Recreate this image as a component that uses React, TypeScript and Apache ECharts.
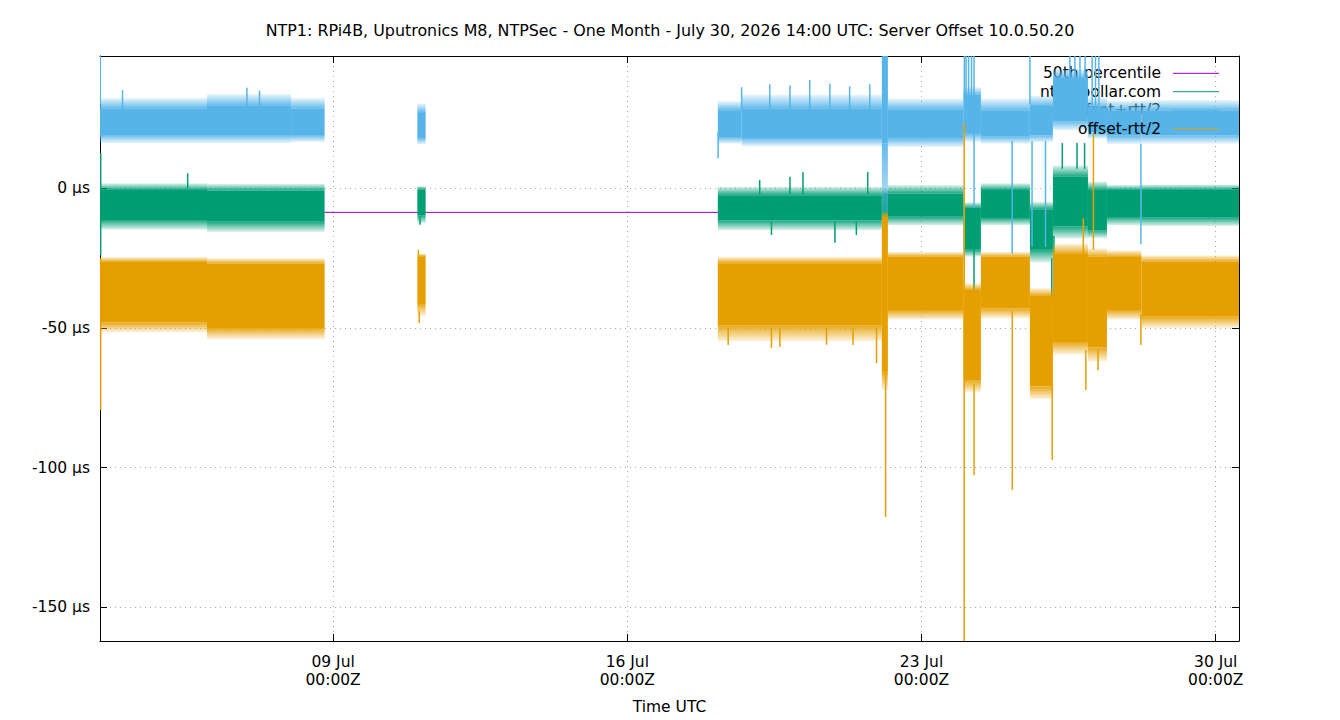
import { useEffect, useRef } from 'react';
import * as echarts from 'echarts';

// Chart text
const TITLE =
  'NTP1: RPi4B, Uputronics M8, NTPSec - One Month - July 30, 2026 14:00 UTC: Server Offset 10.0.50.20';
const X_NAME = 'Time UTC';
const seriesNames = ['50th percentile', 'ntp1.pollar.com', 'offset+rtt/2', 'offset-rtt/2'];
const seriesColors = ['#9400d3', '#009e73', '#56b4e9', '#e69f00'];

// Time is in fractional days of July 2026 (UTC); offsets in microseconds.
const X_MIN = 3.454;
const X_MAX = 30.554;
const Y_MIN = -162.1;
const Y_MAX = 47.4;
const dayTicks = [9, 16, 23, 30];
const offsetTicks = [-150, -100, -50, 0];

// 50th percentile of the server offset
const medianOffset = -8.6;

// Sample envelopes per stretch of time:
// [start, end, outer low, dense low, dense high, outer high]
const offsetBands = [
  [3.454, 6.0, -14.8, -11.3, -0.6, 1.8],
  [6.0, 8.798, -15.6, -12.0, -0.8, 1.6],
  [11.004, 11.202, -12.5, -9.6, -0.4, 0.8],
  [18.153, 22.057, -15.0, -11.5, -2.5, 0.6],
  [22.057, 22.2, -13.0, -11.0, -2.0, 0.0],
  [22.2, 24.0, -13.2, -10.2, -1.8, 1.2],
  [24.0, 24.413, -24.5, -22.0, -7.0, -5.0],
  [24.413, 25.579, -13.2, -10.6, -0.6, 1.8],
  [25.579, 26.127, -26.5, -22.0, -7.5, -4.8],
  [26.127, 26.96, -18.0, -13.7, 4.2, 8.2],
  [26.96, 27.412, -17.8, -15.0, -0.6, 2.4],
  [27.412, 28.233, -13.2, -10.3, -0.6, 1.2],
  [28.233, 30.554, -13.5, -10.5, -0.6, 1.4],
];

const plusRttBands = [
  [3.454, 6.0, 16.2, 19.1, 28.7, 32.4],
  [6.0, 8.0, 16.2, 19.1, 29.8, 33.8],
  [8.0, 8.798, 16.6, 19.1, 28.7, 32.4],
  [11.004, 11.202, 15.8, 18.0, 27.3, 30.4],
  [18.153, 18.724, 16.0, 18.4, 28.0, 31.2],
  [18.724, 22.057, 15.0, 18.0, 28.7, 33.6],
  [22.057, 22.2, -21.0, 16.0, 47.4, 47.4],
  [22.2, 24.0, 14.8, 17.8, 28.3, 32.2],
  [24.0, 24.413, 16.5, 19.5, 33.5, 36.2],
  [24.413, 25.579, 16.0, 18.5, 28.0, 32.2],
  [25.579, 26.127, 16.5, 19.0, 29.5, 33.2],
  [26.127, 26.96, 20.8, 24.0, 39.5, 42.8],
  [26.96, 27.412, 17.8, 20.0, 29.0, 32.4],
  [27.412, 28.233, 15.8, 18.8, 28.0, 31.4],
  [28.233, 30.554, 16.0, 19.0, 28.0, 31.6],
];

const minusRttBands = [
  [3.454, 6.0, -51.5, -48.0, -26.4, -24.6],
  [6.0, 8.798, -54.0, -50.0, -27.0, -25.0],
  [11.004, 11.202, -45.8, -41.4, -24.3, -23.4],
  [18.153, 22.057, -54.8, -49.0, -26.8, -24.5],
  [22.057, 22.2, -72.2, -65.7, -10.0, -8.4],
  [22.2, 24.0, -47.0, -43.6, -24.5, -22.8],
  [24.0, 24.413, -73.0, -68.7, -36.4, -34.0],
  [24.413, 25.579, -46.5, -43.0, -24.5, -22.8],
  [25.579, 26.127, -75.5, -71.0, -38.5, -35.8],
  [26.127, 26.96, -59.5, -55.0, -23.5, -19.8],
  [26.96, 27.412, -62.0, -57.0, -24.5, -21.5],
  [27.412, 28.233, -47.0, -43.6, -24.6, -22.2],
  [28.233, 30.554, -50.0, -46.0, -26.3, -24.0],
];

// Isolated excursions: [time, from, to]
const offsetSpikes = [
  [3.47, -24, 12.6],
  [5.54, 0, 5.4],
  [11.07, -10, -13],
  [19.15, -2, 3.0],
  [19.87, -2, 4.2],
  [20.18, -2, 5.9],
  [21.72, -2, 5.9],
  [19.43, -12, -16.7],
  [20.94, -12, -19.5],
  [21.45, -12, -16.7],
  [24.25, -20, -39.3],
  [26.1, -25, -42.4],
  [26.15, -17, -26.8],
  [26.35, 7, 16.2],
  [26.7, 7, 16.2],
  [26.88, 7, 16.2],
];

const plusRttSpikes = [
  [3.46, 30, 47.4],
  [3.99, 28, 35.2],
  [6.95, 29, 36.0],
  [7.25, 29, 35.0],
  [18.16, 20, 10.8],
  [18.72, 28, 36.2],
  [19.39, 28, 37.3],
  [19.87, 28, 36.8],
  [20.34, 28, 38.8],
  [20.82, 28, 37.5],
  [21.29, 28, 36.5],
  [21.77, 28, 37.3],
  [24.02, 20, 47.4],
  [24.06, 20, 47.4],
  [24.12, 20, 47.4],
  [24.19, 20, 47.4],
  [24.25, -7, 47.4],
  [25.158, 17, -23.3],
  [25.58, 30, 47.4],
  [25.63, 17, -20.9],
  [25.95, 17, -21.0],
  [26.53, 38, 47.4],
  [26.65, 38, 47.4],
  [26.77, 38, 47.4],
  [26.89, 38, 47.4],
  [27.06, 28, 47.4],
  [27.14, 28, 47.4],
  [27.22, 28, 47.4],
  [28.22, 16, -20],
];

const minusRttSpikes = [
  [3.47, -79.4, -25],
  [11.03, -24, -22],
  [11.05, -44, -48.2],
  [18.4, -50, -56.1],
  [19.43, -50, -57.2],
  [19.63, -50, -56.7],
  [20.74, -50, -56.0],
  [21.37, -50, -56.1],
  [21.93, -50, -62.6],
  [22.145, -60, -117.7],
  [24.016, -162.1, 23.4],
  [24.25, -70, -102.7],
  [25.16, -44, -108],
  [26.11, -70, -97.3],
  [26.85, -25, -10.7],
  [26.91, -58, -72.2],
  [27.09, -22, 19.8],
  [27.2, -58, -65.1],
  [28.22, -45, -56.1],
];

const FONT = 'DejaVu Sans';
const FONT_SIZE = 15.5;

function withAlpha(hex: string, a: number) {
  const n = parseInt(hex.slice(1), 16);
  return `rgba(${(n >> 16) & 255},${(n >> 8) & 255},${n & 255},${a})`;
}

// Dense core drawn solid; the sparser fringe fades toward the outer envelope.
function bandRenderer(color: string) {
  const faint = withAlpha(color, 0.12);
  const upFade = {
    type: 'linear', x: 0, y: 0, x2: 0, y2: 1,
    colorStops: [
      { offset: 0, color: faint },
      { offset: 1, color: withAlpha(color, 0.9) },
    ],
  };
  const downFade = {
    type: 'linear', x: 0, y: 0, x2: 0, y2: 1,
    colorStops: [
      { offset: 0, color: withAlpha(color, 0.9) },
      { offset: 1, color: faint },
    ],
  };
  return (_params: any, api: any) => {
    const [xa, yOutLo] = api.coord([api.value(0), api.value(2)]);
    const [xb, yCoreLo] = api.coord([api.value(1), api.value(3)]);
    const yCoreHi = api.coord([api.value(0), api.value(4)])[1];
    const yOutHi = api.coord([api.value(0), api.value(5)])[1];
    const w = Math.max(xb - xa, 1);
    const children: any[] = [
      {
        type: 'rect',
        shape: { x: xa, y: yCoreHi, width: w, height: yCoreLo - yCoreHi },
        style: { fill: color },
      },
    ];
    if (yCoreHi - yOutHi > 0.5) {
      children.push({
        type: 'rect',
        shape: { x: xa, y: yOutHi, width: w, height: yCoreHi - yOutHi },
        style: { fill: upFade },
      });
    }
    if (yOutLo - yCoreLo > 0.5) {
      children.push({
        type: 'rect',
        shape: { x: xa, y: yCoreLo, width: w, height: yOutLo - yCoreLo },
        style: { fill: downFade },
      });
    }
    return { type: 'group', children };
  };
}

function spikeRenderer(color: string) {
  return (_params: any, api: any) => {
    const p1 = api.coord([api.value(0), api.value(1)]);
    const p2 = api.coord([api.value(0), api.value(2)]);
    return {
      type: 'line',
      shape: { x1: p1[0], y1: p1[1], x2: p2[0], y2: p2[1] },
      style: { stroke: color, lineWidth: 1.5 },
    };
  };
}

const legendRows = [73.3, 91.7, 110, 128.5];
const legendZ = [1, 3, 5, 7];

export default function App() {
  const ref = useRef<HTMLDivElement>(null);

  useEffect(() => {
    if (!ref.current) return;
    const chart = echarts.init(ref.current, null, { renderer: 'svg' });

    const frameLine = { show: true, onZero: false, lineStyle: { color: '#000', width: 1 } };
    const tickStyle = { show: true, inside: true, length: 7, lineStyle: { color: '#000', width: 1 } };
    const gridLine = { show: true, lineStyle: { color: '#a8a8a8', width: 1, type: [1, 4] } };
    const labelStyle = { color: '#000', fontSize: FONT_SIZE, fontFamily: FONT };

    const band = (data: number[][], color: string, z: number) => ({
      type: 'custom',
      renderItem: bandRenderer(color),
      data,
      encode: { x: [0, 1], y: [2, 5] },
      clip: true,
      silent: true,
      z,
    });
    const spikes = (data: number[][], color: string, z: number) => ({
      type: 'custom',
      renderItem: spikeRenderer(color),
      data,
      encode: { x: 0, y: [1, 2] },
      clip: true,
      silent: true,
      z,
    });

    const legendElements: any[] = [];
    seriesNames.forEach((name, i) => {
      legendElements.push({
        type: 'text',
        x: 1161,
        y: legendRows[i],
        z: legendZ[i],
        silent: true,
        style: {
          text: name,
          fill: '#000',
          fontSize: FONT_SIZE,
          fontFamily: FONT,
          align: 'right',
          verticalAlign: 'middle',
          textAlign: 'right',
          textVerticalAlign: 'middle',
        },
      });
      legendElements.push({
        type: 'line',
        z: legendZ[i],
        silent: true,
        shape: { x1: 1173, y1: legendRows[i], x2: 1219, y2: legendRows[i] },
        style: { stroke: seriesColors[i], lineWidth: 1 },
      });
    });

    chart.setOption({
      animation: false,
      textStyle: { fontFamily: FONT },
      title: {
        text: TITLE,
        left: 'center',
        top: 17,
        textStyle: { color: '#000', fontSize: 15.9, fontWeight: 'normal', fontFamily: FONT },
      },
      grid: { left: 100, right: 101, top: 56, bottom: 79, containLabel: false },
      xAxis: [
        {
          type: 'value',
          position: 'bottom',
          min: X_MIN,
          max: X_MAX,
          axisLine: frameLine,
          axisTick: { ...tickStyle, customValues: dayTicks },
          axisLabel: {
            ...labelStyle,
            customValues: dayTicks,
            margin: 12,
            lineHeight: 18.3,
            formatter: (v: number) => `${String(v).padStart(2, '0')} Jul\n00:00Z`,
          },
          splitLine: gridLine,
          name: X_NAME,
          nameLocation: 'middle',
          nameGap: 58,
          nameTextStyle: labelStyle,
        },
        {
          type: 'value',
          position: 'top',
          min: X_MIN,
          max: X_MAX,
          axisLine: frameLine,
          axisTick: { ...tickStyle, customValues: dayTicks },
          axisLabel: { show: false, customValues: dayTicks },
          splitLine: { show: false },
        },
      ],
      yAxis: [
        {
          type: 'value',
          position: 'left',
          min: Y_MIN,
          max: Y_MAX,
          axisLine: frameLine,
          axisTick: { ...tickStyle, customValues: offsetTicks },
          axisLabel: {
            ...labelStyle,
            customValues: offsetTicks,
            margin: 10,
            formatter: (v: number) => `${v} \u00b5s`,
          },
          splitLine: gridLine,
        },
        {
          type: 'value',
          position: 'right',
          min: Y_MIN,
          max: Y_MAX,
          axisLine: frameLine,
          axisTick: { ...tickStyle, customValues: offsetTicks },
          axisLabel: { show: false, customValues: offsetTicks },
          splitLine: { show: false },
        },
      ],
      graphic: { elements: legendElements },
      series: [
        {
          type: 'line',
          name: seriesNames[0],
          data: [
            [X_MIN, medianOffset],
            [X_MAX, medianOffset],
          ],
          symbol: 'none',
          lineStyle: { color: seriesColors[0], width: 1 },
          silent: true,
          z: 2,
        },
        band(offsetBands, seriesColors[1], 4),
        spikes(offsetSpikes, seriesColors[1], 4),
        band(plusRttBands, seriesColors[2], 6),
        spikes(plusRttSpikes, seriesColors[2], 6),
        band(minusRttBands, seriesColors[3], 8),
        spikes(minusRttSpikes, seriesColors[3], 8),
      ],
    });

    return () => chart.dispose();
  }, []);

  return (
    <div
      ref={ref}
      style={{ position: 'fixed', left: 0, top: 0, width: 1340, height: 720, background: '#fff' }}
    />
  );
}
